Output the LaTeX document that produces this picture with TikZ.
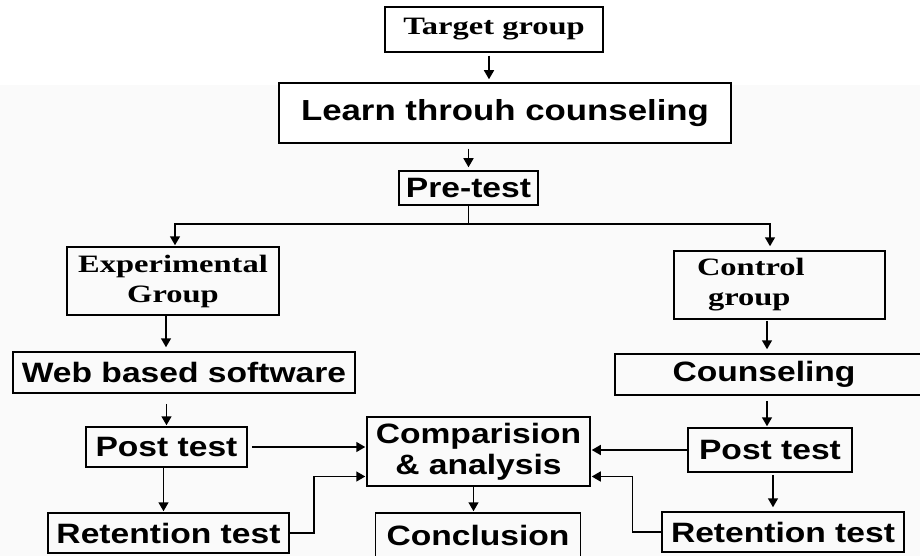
\documentclass[tikz,border=0pt]{standalone}
\usepackage{fontspec}
\newfontfamily\sansfont[FakeStretch=1.2]{Liberation Sans}
\newfontfamily\seriffont[FakeStretch=1.3]{Liberation Serif}
\usetikzlibrary{arrows.meta}

\begin{document}
\begin{tikzpicture}[x=1pt, y=-1pt, line width=1.5pt,
	box/.style={draw, inner sep=0pt, align=center},
	sanslabel/.style={box, font=\sansfont\bfseries\fontsize{28}{31}\selectfont},
	seriflabel/.style={box, font=\seriffont\bfseries\fontsize{25}{30}\selectfont},
	arr/.style={-{Triangle[width=10pt,length=9pt]}}]
	\useasboundingbox (0,0) rectangle (920,556);
	\fill[black!2] (0,85) rectangle (920,556);
	\node (target)	at (494, 29.5)		[seriflabel, fill=white, minimum width=218, minimum height=45]	{Target group};
	\node (learn)	at (505, 113)		[sanslabel, fill=white, minimum width=452, minimum height=60, font=\sansfont\bfseries\fontsize{29}{31}\selectfont]	{Learn throuh counseling};
	\node (pretest)	at (468.5, 188)		[sanslabel, minimum width=139, minimum height=34]	{Pre-test};
	\node (expgroup)	at (173, 281)		[seriflabel, minimum width=212, minimum height=68]	{Experimental\\Group};
	\node (ctrlgroup)	at (779.5, 285)		[seriflabel, minimum width=211, minimum height=68, align=left, text width=165]	{Control\\\hspace*{11pt}group};
	\node (web)	at (184, 372.5)		[sanslabel, minimum width=342, minimum height=41]	{Web based software};
	\node (counsel)	at (775, 374.5)		[sanslabel, minimum width=320, minimum height=41]	{\hspace*{-22pt}Counseling};
	\node (postL)	at (166.5, 447)		[sanslabel, minimum width=161, minimum height=40]	{Post test};
	\node (postR)	at (770, 450)		[sanslabel, minimum width=164, minimum height=44]	{Post test};
	\node (comp)	at (478.5, 451.5)	[sanslabel, minimum width=223, minimum height=69]	{Comparision\\\& analysis};
	\node (retL)	at (168.5, 533)		[sanslabel, minimum width=241, minimum height=40]	{Retention test};
	\node (retR)	at (783, 532)		[sanslabel, minimum width=242, minimum height=40]	{Retention test};
	\node (concl)	at (478, 535)		[sanslabel, minimum width=205, minimum height=44]	{Conclusion};
	\coordinate (fork) at ([yshift=-18pt]pretest.south);
	\draw[arr, shorten <=3pt, shorten >=3pt] ([xshift=-5pt]target.south) -- ([xshift=-5pt]target.south |- learn.north);
	\draw[arr, shorten <=5pt, shorten >=3pt] (pretest.north |- learn.south) -- (pretest.north);
	\draw (pretest.south) -- (fork);
	\draw[arr, shorten >=1pt] (fork) -| ([xshift=2pt]expgroup.north);
	\draw[arr, shorten >=4pt] (fork) -| ([xshift=-9.5pt]ctrlgroup.north);
	\draw[arr, shorten >=4pt] ([xshift=-7pt]expgroup.south) -- ([xshift=-7pt]expgroup.south |- web.north);
	\draw[arr, shorten <=10pt, shorten >=1pt] (postL.north |- web.south) -- (postL.north);
	\draw[arr, shorten >=1pt] ([xshift=-3pt]postL.south) -- ([xshift=-3pt]postL.south |- retL.north);
	\draw[arr, shorten <=1pt, shorten >=4pt] ([xshift=-8pt]counsel.north |- ctrlgroup.south) -- ([xshift=-8pt]counsel.north);
	\draw[arr, shorten <=5pt, shorten >=1pt] ([xshift=-3pt]postR.north |- counsel.south) -- ([xshift=-3pt]postR.north);
	\draw[arr, shorten <=2pt, shorten >=4pt] ([xshift=3pt]postR.south) -- ([xshift=3pt]postR.south |- retR.north);
	\draw[arr, shorten <=4pt, shorten >=1pt] (postL.east) -- (comp.west |- postL.east);
	\draw[arr, shorten >=1pt] (retL.east) -- ++(24,0) |- ([yshift=-25pt]comp.west);
	\draw[arr, shorten >=1pt] (postR.west) -- (comp.east |- postR.west);
	\draw[arr, shorten >=1pt] (retR.west) -- ++(-29,0) |- ([yshift=-25pt]comp.east);
	\draw[arr, shorten >=1pt] ([xshift=-5pt]comp.south) -- ([xshift=-5pt]comp.south |- concl.north);
\end{tikzpicture}
\end{document}
